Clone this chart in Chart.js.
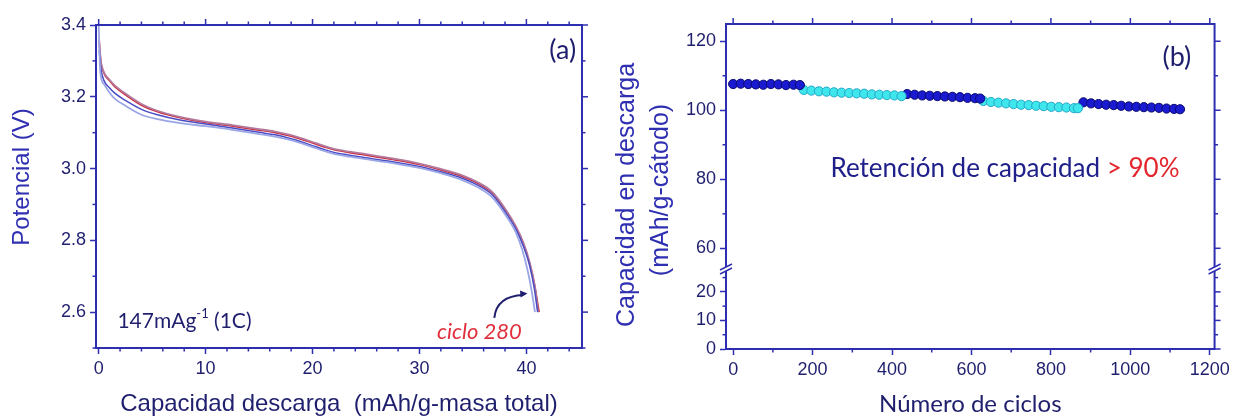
<!DOCTYPE html>
<html><head><meta charset="utf-8">
<script src="https://cdn.jsdelivr.net/npm/chart.js@4.4.1/dist/chart.umd.min.js"></script>
<style>
html,body{margin:0;padding:0;background:#fff;}
body{width:1234px;height:419px;overflow:hidden;position:relative;}
.w{position:absolute;top:0;height:419px;}
</style></head>
<body>
<div class="w" style="left:0;width:600px;"><canvas id="ca"></canvas></div>
<div class="w" style="left:600px;width:634px;"><canvas id="cb"></canvas></div>
<script>
// ================= Panel (a): discharge curves =================
const capRed   = [0.05,0.2,0.5,1,1.5,2.5,4,5.5,7.5,10,12.5,15,16.5,18,19,20,21,22,23.5,25,27.5,30,32,34,35.5,36.8,38,39,39.7,40.3,40.8,41.2];
const voltRed  = [3.36,3.30,3.265,3.245,3.228,3.205,3.176,3.158,3.142,3.128,3.118,3.107,3.100,3.090,3.081,3.071,3.061,3.052,3.044,3.037,3.025,3.011,2.996,2.978,2.958,2.932,2.886,2.838,2.792,2.736,2.670,2.600];
const capMauve = [0.05,0.2,0.5,1,1.5,2.5,4,5.5,7.5,10,12.5,15,16.5,18,19,20,21,22,23.5,25,27.5,30,32,34,35.5,36.8,38,39,39.7,40.3,40.8,41.1];
const voltMauve= [3.35,3.30,3.268,3.248,3.232,3.209,3.180,3.161,3.145,3.131,3.121,3.110,3.103,3.093,3.084,3.074,3.064,3.055,3.047,3.040,3.028,3.014,2.999,2.981,2.961,2.935,2.889,2.840,2.795,2.740,2.672,2.600];
const capBlue  = [0.05,0.2,0.5,1,1.5,2.5,4,5.5,7.5,10,12.5,15,16.5,18,19,20,21,22,23.5,25,27.5,30,32,34,35.5,36.8,38,39,39.7,40.3,40.75,41.05];
const voltBlue = [3.33,3.28,3.245,3.225,3.210,3.190,3.165,3.150,3.136,3.124,3.113,3.101,3.094,3.083,3.074,3.064,3.054,3.045,3.037,3.030,3.019,3.006,2.991,2.973,2.953,2.927,2.880,2.832,2.785,2.730,2.664,2.600];
const capLight = [0.0,0.15,0.5,1,1.5,2.5,4,5.5,7.5,10,12.5,15,16.5,18,19,20,21,22,23.5,25,27.5,30,32,34,35.5,36.8,38,39,39.6,40.1,40.5,40.8];
const voltLight= [3.40,3.27,3.235,3.212,3.195,3.175,3.150,3.138,3.127,3.118,3.108,3.096,3.089,3.079,3.070,3.060,3.050,3.041,3.033,3.026,3.015,3.002,2.987,2.968,2.947,2.920,2.873,2.823,2.775,2.718,2.658,2.600];

const xTicksA  = [0,10,20,30,40];
const xMinorA  = [2,4,6,8,12,14,16,18,22,24,26,28,32,34,36,38,42,44];
const yTicksA  = [2.6,2.8,3.0,3.2,3.4];
const yMinorA  = [2.5,2.7,2.9,3.1,3.3];

// ================= Panel (b): cycling =================
const cycSeg1 = [0,19,38,57,76,95,114,133,152,168];
const capSeg1 = [107.6,107.7,107.6,107.5,107.4,107.6,107.5,107.3,107.4,107.3];
const cycSeg2 = [178,197,216,235,254,273,292,311,330,349,368,387,406,424];
const capSeg2 = [105.9,105.7,105.5,105.4,105.2,105.1,105.0,104.9,104.8,104.6,104.5,104.4,104.3,104.1];
const cycSeg3 = [438,457,476,495,514,533,552,571,590,609,622];
const capSeg3 = [104.7,104.5,104.3,104.2,104.1,104.0,103.9,103.8,103.6,103.5,103.4];
const cycSeg4 = [630,649,668,687,706,725,744,763,782,801,820,839,858,868];
const capSeg4 = [102.7,102.4,102.2,102.0,101.8,101.6,101.5,101.3,101.2,101.0,100.9,100.8,100.6,100.6];
const cycSeg5 = [882,901,920,939,958,977,996,1015,1034,1053,1072,1091,1110,1125];
const capSeg5 = [102.3,102.0,101.8,101.6,101.5,101.3,101.1,101.0,100.9,100.8,100.7,100.5,100.4,100.3];

const xTicksB    = [0,200,400,600,800,1000,1200];
const xMinorB    = [100,300,500,700,900,1100];
const yTicksBUp  = [60,80,100,120];
const yMinorBUp  = [70,90,110];
const yTicksBLow = [0,10,20];
const yMinorBLow = [5,15,25];

// ================= styling =================
const AXIS = '#2e2eb0';
const NAVY = '#1f1f6e';
const BLUE_T = '#2f2fb2';
const RED = '#e3262e';
const SANS = "'Liberation Sans', Arial, sans-serif";
const CAL = "Lato, 'Open Sans', sans-serif";

const pts = (xs, ys) => xs.map((x, i) => ({x, y: ys[i]}));
const setTicks = arr => s => { s.ticks = arr.map(v => ({value: v})); };

function line(ctx, x1, y1, x2, y2) { ctx.beginPath(); ctx.moveTo(x1, y1); ctx.lineTo(x2, y2); ctx.stroke(); }

const framePlugin = {
  id: 'frame',
  afterDraw(chart, args, o) {
    const ctx = chart.ctx, a = chart.chartArea, xs = chart.scales.x;
    ctx.save();
    ctx.strokeStyle = AXIS;
    ctx.lineWidth = 2;
    ctx.beginPath(); ctx.moveTo(a.left - 1, a.top); ctx.lineTo(a.right, a.top); ctx.lineTo(a.right, a.bottom + 1); ctx.stroke();
    ctx.lineWidth = 1.5;
    o.xMajor.forEach(v => { const p = xs.getPixelForValue(v); line(ctx, p, a.top, p, a.top - 6); });
    o.xMinor.forEach(v => { const p = xs.getPixelForValue(v); line(ctx, p, a.top, p, a.top - 3.5); line(ctx, p, a.bottom, p, a.bottom + 3.5); });
    o.y.forEach(sp => {
      const s = chart.scales[sp.id];
      sp.major.forEach(v => { const p = s.getPixelForValue(v); line(ctx, a.right, p, a.right + 6, p); });
      sp.minor.forEach(v => { const p = s.getPixelForValue(v); line(ctx, a.left, p, a.left - 3.5, p); line(ctx, a.right, p, a.right + 3.5, p); });
    });
    // axis break marks
    if (o.breakY) {
      const yb = chart.scales[o.breakY].bottom;
      [a.left, a.right].forEach(xb => {
        ctx.fillStyle = '#fff';
        ctx.beginPath();
        ctx.moveTo(xb - 6, yb + 1); ctx.lineTo(xb + 6, yb - 5); ctx.lineTo(xb + 6, yb - 1); ctx.lineTo(xb - 6, yb + 5); ctx.closePath(); ctx.fill();
        ctx.lineWidth = 1.5;
        line(ctx, xb - 6, yb + 1, xb + 6, yb - 5);
        line(ctx, xb - 6, yb + 5, xb + 6, yb - 1);
      });
    }
    // rotated y titles
    (o.yTitles || []).forEach(t => {
      ctx.save();
      ctx.translate(t.x, t.y); ctx.rotate(-Math.PI / 2);
      ctx.font = t.font; ctx.fillStyle = t.color; ctx.textAlign = 'center'; ctx.textBaseline = 'middle';
      ctx.fillText(t.text, 0, 0);
      ctx.restore();
    });
    // rich text annotations (data coordinates)
    (o.texts || []).forEach(t => {
      const ys = chart.scales[t.yId || 'y'];
      let x = xs.getPixelForValue(t.x), y = ys.getPixelForValue(t.y);
      ctx.textBaseline = 'middle';
      let total = 0;
      t.parts.forEach(p => { ctx.font = p.font; total += ctx.measureText(p.t).width; });
      if (t.align === 'center') x -= total / 2;
      t.parts.forEach(p => {
        ctx.font = p.font; ctx.fillStyle = p.color; ctx.textAlign = 'left';
        ctx.fillText(p.t, x, y + (p.dy || 0));
        x += ctx.measureText(p.t).width;
      });
    });
    // arrow
    if (o.arrow) {
      const ar = o.arrow, ys = chart.scales.y;
      const P = q => [xs.getPixelForValue(q[0]), ys.getPixelForValue(q[1])];
      const [x0, y0] = P(ar.from), [cx, cy] = P(ar.ctrl), [x1, y1] = P(ar.to);
      ctx.strokeStyle = NAVY; ctx.fillStyle = NAVY; ctx.lineWidth = 2;
      ctx.beginPath(); ctx.moveTo(x0, y0); ctx.quadraticCurveTo(cx, cy, x1 - 4, y1 + 1.5); ctx.stroke();
      const ang = Math.atan2(y1 - cy, x1 - cx);
      ctx.beginPath();
      ctx.moveTo(x1, y1);
      ctx.lineTo(x1 - 8 * Math.cos(ang - 0.45), y1 - 8 * Math.sin(ang - 0.45));
      ctx.lineTo(x1 - 8 * Math.cos(ang + 0.45), y1 - 8 * Math.sin(ang + 0.45));
      ctx.closePath(); ctx.fill();
    }
    ctx.restore();
  }
};

const axisCommon = (ticksArr, fmt) => ({
  type: 'linear',
  afterBuildTicks: setTicks(ticksArr),
  ticks: { font: { family: SANS, size: 18 }, color: NAVY, padding: 4, callback: fmt, autoSkip: false },
  grid: { drawOnChartArea: false, drawTicks: true, tickLength: 6, color: AXIS, tickWidth: 1.5 },
  border: { color: AXIS, width: 2 }
});

// ---------- chart (a) ----------
const lineDS = (label, xs, ys, color, w) => ({
  label, data: pts(xs, ys), borderColor: color, borderWidth: w, pointRadius: 0,
  showLine: true, cubicInterpolationMode: 'monotone', fill: false
});

new Chart(document.getElementById('ca'), {
  type: 'scatter',
  data: { datasets: [
    lineDS('ciclo 1', capLight, voltLight, '#9aa6e6', 1.8),
    lineDS('ciclo 100', capBlue, voltBlue, '#4a4cc4', 1.5),
    lineDS('ciclo 200', capMauve, voltMauve, '#b47a9c', 1.8),
    lineDS('ciclo 280', capRed, voltRed, '#cc2a3c', 1.5)
  ]},
  options: {
    responsive: true, maintainAspectRatio: false, animation: false,
    layout: { padding: { top: 25, right: 18, left: 0, bottom: 0 } },
    plugins: {
      legend: { display: false }, tooltip: { enabled: false },
      frame: {
        xMajor: xTicksA, xMinor: xMinorA,
        y: [{ id: 'y', major: yTicksA, minor: yMinorA }],
        yTitles: [{ text: 'Potencial (V)', x: 22, y: 177, font: `24px ${SANS}`, color: BLUE_T }],
        texts: [
          { x: 43.4, y: 3.33, align: 'center', parts: [{ t: '(a)', font: `27px ${CAL}`, color: NAVY }] },
          { x: 1.75, y: 2.574, parts: [
            { t: '147mAg', font: `21px ${CAL}`, color: NAVY },
            { t: '-1', font: `13px ${CAL}`, color: NAVY, dy: -8 },
            { t: ' (1C)', font: `21px ${CAL}`, color: NAVY } ] },
          { x: 35.6, y: 2.546, align: 'center', parts: [{ t: 'ciclo 280', font: `italic 22px ${CAL}`, color: '#e0303e' }] }
        ],
        arrow: { from: [37.0, 2.584], ctrl: [37.2, 2.645], to: [40.1, 2.652] }
      }
    },
    scales: {
      x: Object.assign(axisCommon(xTicksA, v => v), {
        min: -0.25, max: 45.2, position: 'bottom',
        title: { display: true, text: 'Capacidad descarga  (mAh/g-masa total)', font: { family: SANS, size: 24 }, color: NAVY, padding: { top: 4, bottom: 0 } },
        afterFit: s => { s.height = 71; }
      }),
      y: Object.assign(axisCommon(yTicksA, v => v.toFixed(1)), {
        min: 2.5, max: 3.4, position: 'left',
        afterFit: s => { s.width = 96; }
      })
    }
  },
  plugins: [framePlugin]
});

// ---------- chart (b) ----------
const DARK_F = '#1a1ad0', DARK_B = '#0a0a70';
const CYAN_F = '#3fe6ec', CYAN_B = '#22a8c8';
const dotDS = (label, xs, ys, f, b) => ({
  label, data: pts(xs, ys), yAxisID: 'yUp', backgroundColor: f, borderColor: b,
  borderWidth: 1, pointRadius: 4.6, showLine: false
});

new Chart(document.getElementById('cb'), {
  type: 'scatter',
  data: { datasets: [
    dotDS('1', cycSeg1, capSeg1, DARK_F, DARK_B),
    dotDS('2', cycSeg2, capSeg2, CYAN_F, CYAN_B),
    dotDS('3', cycSeg3, capSeg3, DARK_F, DARK_B),
    dotDS('4', cycSeg4, capSeg4, CYAN_F, CYAN_B),
    dotDS('5', cycSeg5, capSeg5, DARK_F, DARK_B)
  ]},
  options: {
    responsive: true, maintainAspectRatio: false, animation: false,
    layout: { padding: { top: 24, right: 18, left: 0, bottom: 0 } },
    plugins: {
      legend: { display: false }, tooltip: { enabled: false },
      frame: {
        xMajor: xTicksB, xMinor: xMinorB,
        y: [{ id: 'yUp', major: yTicksBUp, minor: yMinorBUp }, { id: 'yLow', major: yTicksBLow, minor: yMinorBLow }],
        breakY: 'yUp',
        yTitles: [
          { text: 'Capacidad en descarga', x: 27, y: 195, font: `25px ${SANS}`, color: BLUE_T },
          { text: '(mAh/g-cátodo)', x: 61, y: 190, font: `25px ${SANS}`, color: BLUE_T }
        ],
        texts: [
          { x: 1117, y: 115.4, yId: 'yUp', align: 'center', parts: [{ t: '(b)', font: `27px ${CAL}`, color: NAVY }] },
          { x: 245, y: 83.1, yId: 'yUp', parts: [
            { t: 'Retención de capacidad ', font: `26px ${CAL}`, color: '#20208a' },
            { t: '> 90%', font: `26px ${CAL}`, color: RED } ] }
        ]
      }
    },
    scales: {
      x: Object.assign(axisCommon(xTicksB, v => v), {
        min: -18, max: 1212, position: 'bottom',
        title: { display: true, text: 'Número de ciclos', font: { family: CAL, size: 24 }, color: NAVY, padding: { top: 4, bottom: 0 } },
        afterFit: s => { s.height = 70; }
      }),
      yLow: Object.assign(axisCommon(yTicksBLow, v => v), {
        min: 0, max: 28, position: 'left', stack: 'cap', stackWeight: 80,
        afterFit: s => { s.width = 126; }
      }),
      yUp: Object.assign(axisCommon(yTicksBUp, v => v), {
        min: 54, max: 125, position: 'left', stack: 'cap', stackWeight: 245,
        afterFit: s => { s.width = 126; }
      })
    }
  },
  plugins: [framePlugin]
});
</script>
</body></html>
